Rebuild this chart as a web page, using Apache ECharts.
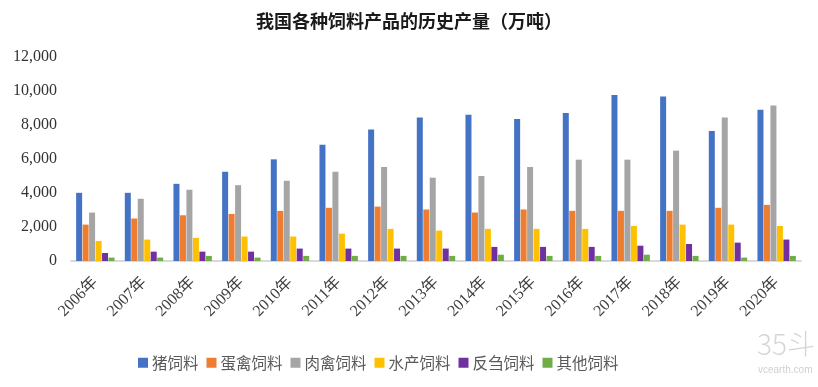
<!DOCTYPE html>
<html>
<head>
<meta charset="utf-8">
<script src="https://cdn.jsdelivr.net/npm/echarts@6/dist/echarts.min.js"></script>
<style>html,body{margin:0;padding:0;background:#fff;}#c{width:818px;height:387px;}</style>
</head>
<body>
<div id="c"></div>
<script>
var categories = ['2006年','2007年','2008年','2009年','2010年','2011年','2012年','2013年','2014年','2015年','2016年','2017年','2018年','2019年','2020年'];
var seriesNames = ['猪饲料','蛋禽饲料','肉禽饲料','水产饲料','反刍饲料','其他饲料'];
var pigFeed     = [4010, 4010, 4540, 5250, 5980, 6840, 7730, 8440, 8610, 8360, 8710, 9770, 9680, 7650, 8890];
var layerFeed   = [2140, 2500, 2690, 2770, 2950, 3130, 3200, 3030, 2850, 3030, 2950, 2950, 2950, 3130, 3300];
var broilerFeed = [2850, 3660, 4190, 4460, 4720, 5250, 5530, 4900, 5000, 5530, 5960, 5960, 6490, 8440, 9140];
var aquaFeed    = [1180, 1260, 1360, 1440, 1440, 1610, 1890, 1790, 1890, 1890, 1890, 2060, 2140, 2140, 2060];
var rumiFeed    = [470, 550, 550, 550, 730, 730, 730, 730, 830, 830, 830, 900, 1000, 1080, 1260];
var otherFeed   = [200, 200, 300, 200, 300, 300, 300, 300, 370, 300, 300, 370, 300, 200, 300];
var yTicks = [0, 2000, 4000, 6000, 8000, 10000, 12000];

var colors = ['#4472C4','#ED7D31','#A5A5A5','#FFC000','#7030A0','#70AD47'];
var values = [pigFeed, layerFeed, broilerFeed, aquaFeed, rumiFeed, otherFeed];

var chart = echarts.init(document.getElementById('c'));
chart.setOption({
  animation: false,
  color: colors,
  title: {
    text: '我国各种饲料产品的历史产量（万吨）',
    left: 'center',
    top: 7,
    textStyle: {fontFamily: '"Noto Sans CJK SC", sans-serif', fontSize: 18, fontWeight: 'bold', color: '#1a1a1a'}
  },
  legend: {
    data: seriesNames,
    left: 133,
    top: 350,
    itemWidth: 10,
    itemHeight: 10,
    itemGap: 8,
    icon: 'rect',
    textStyle: {fontFamily: '"Noto Sans CJK SC", sans-serif', fontSize: 15.5, color: '#595959', padding: [0,0,0,-1]}
  },
  grid: {left: 71, right: 17, top: 57, bottom: 126, containLabel: false},
  xAxis: {
    type: 'category',
    data: categories,
    axisLine: {lineStyle: {color: '#D9D9D9', width: 2}},
    axisTick: {show: false},
    axisLabel: {rotate: 45, margin: 19, interval: 0, fontFamily: '"Liberation Serif", "Noto Sans CJK SC", serif', fontSize: 16, color: '#404040'}
  },
  yAxis: {
    type: 'value',
    min: yTicks[0],
    max: yTicks[yTicks.length - 1],
    interval: yTicks[1] - yTicks[0],
    splitLine: {show: false},
    axisLine: {show: false},
    axisTick: {show: false},
    axisLabel: {
      margin: 14,
      fontFamily: '"Liberation Serif", serif',
      fontSize: 16,
      color: '#333333',
      formatter: function (v) { return v.toLocaleString('en-US'); }
    }
  },
  series: seriesNames.map(function (n, i) {
    return {
      name: n,
      type: 'bar',
      data: values[i],
      barWidth: 6,
      barGap: '8%',
      itemStyle: {color: colors[i]}
    };
  }),
  graphic: [
    {type: 'text', left: 757, top: 330, style: {text: '35斗', fontSize: 28, fontFamily: '"Noto Sans CJK SC", sans-serif', fontWeight: 300, fill: '#d6d6d6'}},
    {type: 'text', left: 758, top: 365, style: {text: 'vcearth.com', fontSize: 10, fontFamily: 'sans-serif', fill: '#d0d0d0'}}
  ]
});
</script>
</body>
</html>
